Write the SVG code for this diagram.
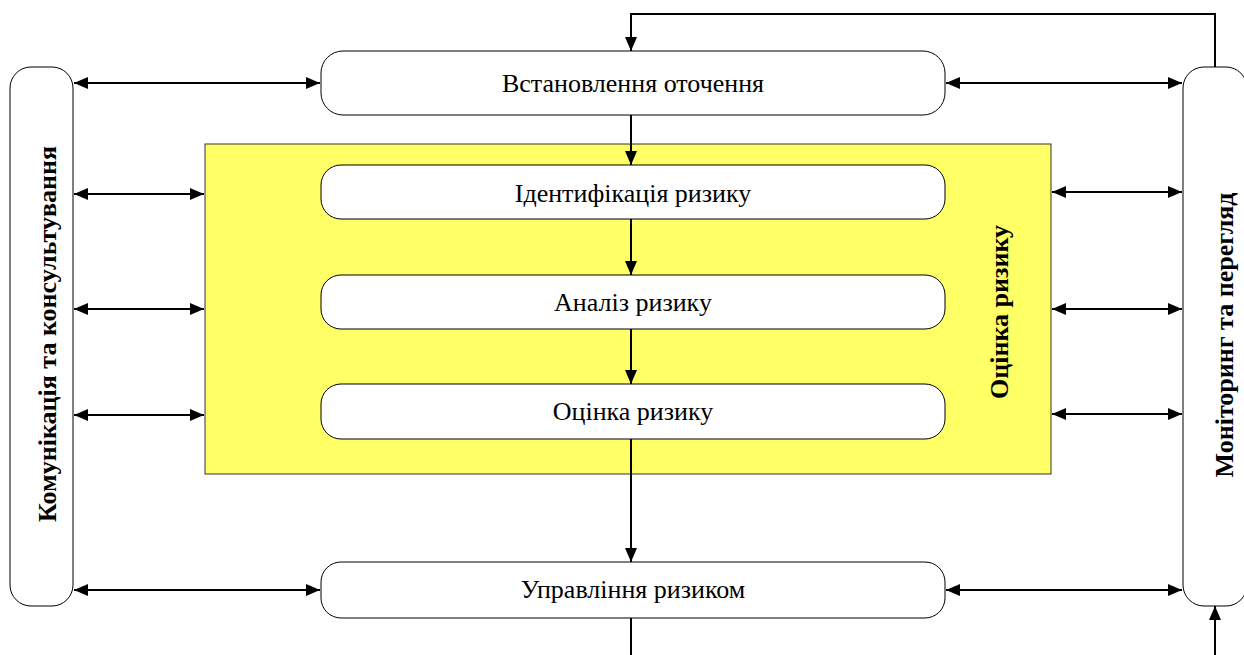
<svg xmlns="http://www.w3.org/2000/svg" width="1244" height="655" viewBox="0 0 1244 655">
<style>
.box{fill:#fff;stroke:#000;stroke-width:1}
.t{font-family:"Liberation Serif","Times New Roman",serif;font-size:26px;fill:#000;text-anchor:middle}
.b{font-weight:bold;font-size:26px}
.c{stroke:#000;stroke-width:2;fill:none}
</style>
<defs>
<marker id="ah" viewBox="0 0 14 12" refX="14" refY="6" markerWidth="14" markerHeight="12" markerUnits="userSpaceOnUse" orient="auto-start-reverse">
<path d="M0,0 L14,6 L0,12 Z" fill="#000"/>
</marker>
</defs>
<g id="risk-assessment">
<rect x="205" y="144" width="846" height="330" fill="#ffff66" stroke="#333" stroke-width="1"/>
<text class="t b" transform="translate(1008,312) rotate(-90)">Оцінка ризику</text>
</g>
<g id="communication">
<rect class="box" x="10" y="67" width="63" height="539" rx="21"/>
<text class="t b" transform="translate(56,334) rotate(-90)">Комунікація та консультування</text>
</g>
<g id="monitoring">
<rect class="box" x="1183" y="67" width="64" height="539" rx="21"/>
<text class="t b" transform="translate(1233,335) rotate(-90)">Моніторинг та перегляд</text>
</g>
<g id="context">
<rect class="box" x="321" y="51" width="624" height="64" rx="22"/>
<text class="t" x="633" y="92">Встановлення оточення</text>
</g>
<g id="identification">
<rect class="box" x="321" y="165" width="624" height="54" rx="20"/>
<text class="t" x="633" y="202">Ідентифікація ризику</text>
</g>
<g id="analysis">
<rect class="box" x="321" y="275" width="624" height="54" rx="20"/>
<text class="t" x="633" y="311">Аналіз ризику</text>
</g>
<g id="evaluation">
<rect class="box" x="321" y="384" width="624" height="55" rx="20"/>
<text class="t" x="633" y="420">Оцінка ризику</text>
</g>
<g id="treatment">
<rect class="box" x="321" y="562" width="624" height="56" rx="20"/>
<text class="t" x="633" y="598">Управління ризиком</text>
</g>
<g id="connectors">
<line class="c" x1="74" y1="83" x2="320" y2="83" marker-start="url(#ah)" marker-end="url(#ah)"/>
<line class="c" x1="74" y1="194" x2="204" y2="194" marker-start="url(#ah)" marker-end="url(#ah)"/>
<line class="c" x1="74" y1="309" x2="204" y2="309" marker-start="url(#ah)" marker-end="url(#ah)"/>
<line class="c" x1="74" y1="415" x2="204" y2="415" marker-start="url(#ah)" marker-end="url(#ah)"/>
<line class="c" x1="74" y1="590" x2="320" y2="590" marker-start="url(#ah)" marker-end="url(#ah)"/>
<line class="c" x1="946" y1="83" x2="1182" y2="83" marker-start="url(#ah)" marker-end="url(#ah)"/>
<line class="c" x1="1052" y1="192" x2="1182" y2="192" marker-start="url(#ah)" marker-end="url(#ah)"/>
<line class="c" x1="1052" y1="309" x2="1182" y2="309" marker-start="url(#ah)" marker-end="url(#ah)"/>
<line class="c" x1="1052" y1="414" x2="1182" y2="414" marker-start="url(#ah)" marker-end="url(#ah)"/>
<line class="c" x1="946" y1="590" x2="1182" y2="590" marker-start="url(#ah)" marker-end="url(#ah)"/>
<line class="c" x1="631" y1="115" x2="631" y2="165" marker-end="url(#ah)"/>
<line class="c" x1="631" y1="219" x2="631" y2="275" marker-end="url(#ah)"/>
<line class="c" x1="631" y1="329" x2="631" y2="384" marker-end="url(#ah)"/>
<line class="c" x1="631" y1="439" x2="631" y2="562" marker-end="url(#ah)"/>
<line class="c" x1="631" y1="618" x2="631" y2="655"/>
<polyline class="c" points="1215,655 1215,606" marker-end="url(#ah)"/>
<polyline class="c" points="1215,67 1215,14 631,14 631,51" marker-end="url(#ah)"/>
</g>
</svg>
